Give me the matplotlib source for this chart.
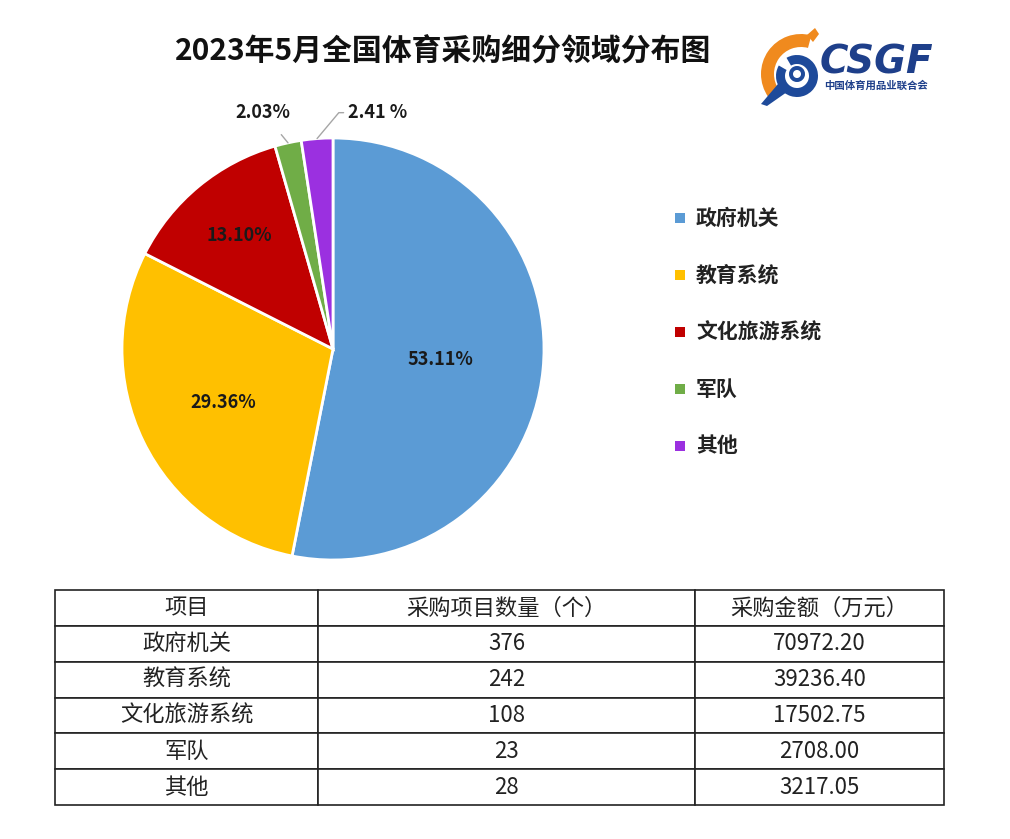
import numpy as np
import matplotlib.pyplot as plt
from matplotlib.patches import Wedge, Rectangle, Polygon

plt.rcParams['font.family'] = ['Noto Sans CJK SC', 'DejaVu Sans']

categories = ['政府机关', '教育系统', '文化旅游系统', '军队', '其他']
counts = [376, 242, 108, 23, 28]
amounts = [70972.20, 39236.40, 17502.75, 2708.00, 3217.05]
pct_labels = ['53.11%', '29.36%', '13.10%', '2.03%', '2.41 %']
colors = ['#5B9BD5', '#FFC000', '#C00000', '#70AD47', '#9B30E0']
headers = ['项目', '采购项目数量（个）', '采购金额（万元）']
amount_text = ['70972.20', '39236.40', '17502.75', '2708.00', '3217.05']

W, H = 1010, 839
fig = plt.figure(figsize=(W / 100, H / 100), dpi=100)
fig.patch.set_facecolor('white')

# title
fig.text(443 / W, 1 - 52 / H, '2023年5月全国体育采购细分领域分布图',
         ha='center', va='center', fontsize=21.5, fontweight='bold', color='#111111')

# pie
cx, cy, r = 333, 349, 211
ax = fig.add_axes([(cx - r) / W, (H - cy - r) / H, 2 * r / W, 2 * r / H])
wedges, _ = ax.pie(amounts, colors=colors, startangle=90, counterclock=False,
                   radius=1.0, wedgeprops=dict(edgecolor='white', linewidth=2))
ax.set_xlim(-1, 1)
ax.set_ylim(-1, 1)
ax.axis('off')

# inside labels
inner_r = [0.51, 0.58, 0.7]
for i in range(3):
    w = wedges[i]
    ang = np.deg2rad((w.theta1 + w.theta2) / 2)
    ax.text(inner_r[i] * np.cos(ang), inner_r[i] * np.sin(ang), pct_labels[i],
            ha='center', va='center', fontsize=13, fontweight='bold', color='#1a1a1a')

# outside labels with leader lines
w = wedges[3]
ang = np.deg2rad((w.theta1 + w.theta2) / 2)
ax.annotate(pct_labels[3], xy=(np.cos(ang), np.sin(ang)), xytext=(-0.33, 1.12),
            ha='center', va='center', fontsize=13, fontweight='bold', color='#1a1a1a',
            arrowprops=dict(arrowstyle='-', color='#A6A6A6', lw=1,
                            shrinkA=9, shrinkB=0), annotation_clip=False)
w = wedges[4]
ang = np.deg2rad((w.theta1 + w.theta2) / 2)
ax.annotate(pct_labels[4], xy=(np.cos(ang), np.sin(ang)), xytext=(0.07, 1.12),
            ha='left', va='center', fontsize=13, fontweight='bold', color='#1a1a1a',
            arrowprops=dict(arrowstyle='-', color='#A6A6A6', lw=1,
                            connectionstyle='angle,angleA=0,angleB=50,rad=0',
                            shrinkA=1, shrinkB=0), annotation_clip=False)

# legend
for i, name in enumerate(categories):
    y = 218 + 57 * i
    fig.patches.append(Rectangle((675 / W, 1 - (y + 5) / H), 10 / W, 10 / H,
                                 transform=fig.transFigure, facecolor=colors[i],
                                 edgecolor='none'))
    fig.text(696 / W, 1 - y / H, name, ha='left', va='center',
             fontsize=15, fontweight='bold', color='#222222')

# table
tax = fig.add_axes([55 / W, 1 - 805 / H, 889 / W, 215 / H])
tax.axis('off')
cell_text = [[categories[i], str(counts[i]), amount_text[i]] for i in range(len(categories))]
tbl = tax.table(cellText=cell_text, colLabels=headers, cellLoc='center',
                colWidths=[263, 377, 249], bbox=[0, 0, 1, 1])
tbl.auto_set_font_size(False)
tbl.set_fontsize(16)
for (row, col), cell in tbl.get_celld().items():
    cell.set_edgecolor('#222222')
    cell.set_linewidth(1.2)
    cell.get_text().set_color('#222222')

# logo
lax = fig.add_axes([745 / W, 1 - 112 / H, 90 / W, 90 / H])
lax.set_xlim(0, 90)
lax.set_ylim(0, 90)
lax.axis('off')
orange, blue = '#F08A1E', '#1E4A9A'
lax.add_patch(Wedge((56, 38), 40, 75, 215, width=13, facecolor=orange, edgecolor='none'))
lax.add_patch(Polygon([[62, 77], [70, 84], [74, 78], [68, 70]], facecolor=orange, edgecolor='none'))
lax.add_patch(Wedge((52, 36), 21, 150, 480, width=9, facecolor=blue, edgecolor='none'))
lax.add_patch(Wedge((52, 38), 8, 0, 360, width=4, facecolor=blue, edgecolor='none'))
lax.add_patch(Polygon([[33, 28], [42, 20], [22, 6], [16, 8]], facecolor=blue, edgecolor='none'))
fig.text(876 / W, 1 - 62 / H, 'CSGF', ha='center', va='center', fontsize=28,
         fontweight='bold', fontstyle='italic', color='#1E3F8A', family='DejaVu Sans')
fig.text(876 / W, 1 - 86 / H, '中国体育用品业联合会', ha='center', va='center',
         fontsize=7.5, fontweight='bold', color='#1E3F8A')

fig.savefig('out.png', dpi=100, facecolor='white')
